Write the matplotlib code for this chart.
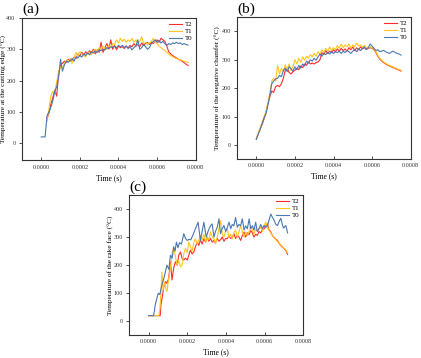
import numpy as np
import matplotlib
matplotlib.use("Agg")
import matplotlib.pyplot as plt

plt.rcParams["font.family"] = ["Liberation Serif", "DejaVu Serif"]

RED = "#ff2d2d"
YELLOW = "#ffc520"
BLUE = "#4a78b0"
LW = 0.8

LABELS = ["T2", "T1", "T0"]
XTICKS = [0.0, 0.0002, 0.0004, 0.0006, 0.0008]
XTICK_LABELS = ["0.0000", "0.0002", "0.0004", "0.0006", "0.0008"]
YTICKS = [0, 100, 200, 300, 400]

# time in microseconds
TIME_A_US = [0, 10, 20, 30, 40, 50, 60, 70, 80, 90,
             100, 110, 120, 130, 140, 150, 160, 170, 180, 190,
             200, 210, 220, 230, 240, 250, 260, 270, 280, 290,
             300, 310, 320, 330, 340, 350, 360, 370, 380, 390,
             400, 410, 420, 430, 440, 450, 460, 470, 480, 490,
             500, 510, 520, 530, 540, 550, 560, 570, 580, 590,
             600, 610, 620, 630, 640, 650, 660, 670, 680, 690,
             700, 710, 720, 730, 740, 750, 760]
TIME_B_US = TIME_A_US[:-1]

# (a) cutting edge
A_T2 = [None, None, None, 80, 95, 125, 145, 170, 150, 220,
        250, 255, 262, 258, 268, 262, 265, 275, 270, 285,
        278, 290, 282, 292, 285, 295, 288, 300, 285, 298,
        290, 322, 290, 305, 318, 300, 330, 300, 312, 298,
        310, 305, 308, 302, 310, 305, 312, 308, 318, 310,
        315, 308, 320, 312, 318, 322, 315, 322, 318, 325,
        330, 322, 335, 330, 325, 310, 292, 285, 280, 276,
        272, 268, 265, 261, 257, 252, 248]
A_T1 = [None, None, None, 70, 110, 150, 165, 160, 195, 230,
        245, 240, 255, 265, 262, 270, 255, 272, 290, 278,
        292, 285, 280, 275, 290, 288, 282, 295, 300, 292,
        305, 300, 310, 302, 300, 312, 305, 318, 315, 330,
        320, 335, 325, 332, 322, 330, 325, 335, 322, 330,
        320, 325, 340, 318, 322, 315, 320, 325, 335, 322,
        318, 310, 305, 300, 296, 290, 284, 280, 276, 273,
        270, 268, 266, 264, 262, 260, 258]
A_T0 = [20, 20, 20, 87, 100, 115, 135, 165, 180, 210,
        268, 230, 250, 262, 258, 265, 270, 262, 275, 272,
        280, 275, 285, 280, 288, 282, 292, 288, 295, 290,
        298, 295, 300, 298, 305, 302, 308, 305, 310, 305,
        312, 308, 312, 305, 310, 302, 308, 298, 305, 310,
        330, 300, 305, 315, 308, 300, 305, 318, 325, 330,
        322, 328, 320, 325, 318, 312, 318, 315, 320, 318,
        322, 318, 320, 315, 318, 315, 313]

# (b) negative chamfer
B_T2 = [22, 40, 58, 72, 92, 115, 145, 170, 190, 185,
        205, 210, 205, 215, 235, 262, 270, 255, 250, 258,
        262, 270, 265, 278, 272, 285, 280, 292, 285, 288,
        285, 290, 292, 300, 325, 318, 332, 322, 330, 325,
        335, 328, 338, 330, 340, 332, 338, 330, 342, 335,
        345, 332, 342, 335, 345, 338, 342, 338, 340, 342,
        340, 335, 325, 312, 302, 295, 290, 285, 281, 278,
        275, 272, 269, 266, 263, 260]
B_T1 = [25, 42, 62, 80, 100, 118, 150, 180, 225, 235,
        225, 280, 250, 270, 258, 282, 265, 285, 262, 275,
        300, 285, 305, 290, 310, 298, 312, 305, 318, 310,
        322, 312, 328, 318, 335, 325, 340, 330, 345, 332,
        342, 335, 350, 340, 355, 342, 352, 345, 355, 340,
        352, 345, 358, 348, 352, 345, 350, 345, 342, 345,
        342, 338, 328, 315, 305, 298, 292, 287, 283, 280,
        277, 274, 271, 268, 265, 263]
B_T0 = [20, 38, 55, 75, 95, 110, 140, 175, 215, 225,
        232, 235, 245, 240, 262, 270, 258, 275, 268, 260,
        275, 265, 280, 270, 285, 278, 295, 288, 300, 295,
        305, 298, 310, 320, 312, 322, 318, 325, 320, 328,
        322, 328, 325, 330, 322, 330, 325, 332, 328, 322,
        330, 335, 328, 338, 332, 340, 345, 335, 342, 355,
        348, 340, 332, 335, 328, 330, 333, 328, 325, 322,
        327, 330, 325, 322, 320, 316]

# (c) rake face
C_T2_US = [0, 60, 64, 70, 78, 87, 95, 104, 113, 121, 130, 139, 148, 156, 165,
           173, 182, 191, 200, 208, 216, 225, 234, 242, 251, 260, 268, 277, 286,
           295, 303, 312, 320, 329, 338, 346, 355, 364, 372, 381, 390, 398, 407,
           416, 425, 433, 442, 450, 459, 468, 476, 485, 494, 502, 511, 520, 528,
           537, 545, 554, 563, 571, 580, 589, 597, 606, 615, 620, 632, 641, 650,
           658, 667, 675, 684, 692, 701, 710, 719]
C_T2 = [20, 20, 60, 82, 120, 141, 135, 153, 212, 147, 190, 212, 200, 235, 247,
        225, 218, 225, 218, 235, 253, 240, 247, 265, 282, 270, 290, 275, 294,
        282, 300, 285, 295, 282, 288, 280, 295, 285, 290, 300, 285, 295, 294,
        305, 295, 300, 312, 295, 305, 300, 288, 305, 318, 300, 315, 308, 323,
        315, 300, 310, 306, 320, 315, 325, 329, 340, 347, 330, 318, 305, 298,
        292, 288, 278, 270, 264, 259, 252, 238]
C_T1_US = [0, 52, 58, 63, 69, 75, 83, 88, 95, 104, 113, 121, 130, 139, 147,
           156, 165, 173, 182, 191, 200, 208, 217, 225, 234, 242, 251, 260, 268,
           277, 286, 295, 303, 312, 320, 329, 338, 346, 355, 364, 372, 381, 390,
           398, 407, 416, 424, 433, 442, 450, 459, 468, 476, 485, 494, 502, 511,
           520, 528, 537, 545, 554, 563, 571, 580, 589, 597, 606, 615, 622, 632,
           641, 650, 658, 667, 675, 684, 692, 701, 710, 719]
C_T1 = [20, 20, 40, 94, 175, 110, 140, 120, 106, 150, 190, 240, 265, 230, 200,
        215, 194, 200, 240, 260, 245, 282, 265, 250, 280, 294, 275, 290, 306,
        290, 310, 282, 300, 290, 318, 300, 295, 276, 300, 330, 359, 312, 300,
        320, 330, 300, 310, 294, 318, 325, 300, 320, 341, 320, 300, 318, 306,
        320, 341, 325, 310, 330, 320, 330, 335, 320, 340, 353, 335, 325, 315,
        306, 298, 290, 285, 278, 272, 265, 260, 254, 243]
C_T0_US = [0, 26, 35, 43, 50, 58, 69, 78, 87, 95, 105, 113, 122, 130, 137,
           144, 152, 160, 170, 182, 191, 200, 210, 218, 228, 242, 256, 268, 277,
           286, 298, 310, 320, 329, 338, 346, 355, 364, 372, 381, 390, 399, 408,
           416, 425, 433, 441, 450, 459, 467, 476, 485, 494, 502, 511, 520, 528,
           537, 545, 554, 562, 571, 580, 589, 597, 606, 615, 623, 632, 641, 650,
           658, 667, 675, 684, 692, 698, 705, 710, 719]
C_T0 = [20, 20, 60, 82, 100, 95, 130, 150, 176, 200, 185, 235, 225, 265, 250,
        282, 262, 280, 275, 312, 295, 288, 292, 290, 305, 329, 353, 288, 320,
        353, 300, 325, 340, 347, 300, 320, 335, 365, 312, 330, 341, 320, 335,
        353, 330, 345, 340, 370, 335, 345, 340, 365, 325, 340, 330, 365, 330,
        340, 325, 353, 320, 330, 345, 330, 341, 335, 340, 360, 382, 370, 359,
        345, 341, 355, 367, 345, 332, 338, 341, 315]

fig = plt.figure(figsize=(4.21, 3.58), dpi=100)


def draw_panel(rect, letter, ylabel, ylim, label_x, series):
    ax = fig.add_axes(rect)
    for (t_us, temp), color, label in zip(series, [RED, YELLOW, BLUE], LABELS):
        ax.plot(np.array(t_us) * 1e-6, np.array(temp, dtype=float),
                color=color, lw=LW, label=label)
    ax.set_xlim(-0.0001, 0.0008)
    ax.set_ylim(*ylim)
    ax.set_xticks(XTICKS)
    ax.set_xticklabels(XTICK_LABELS)
    ax.set_yticks(YTICKS)
    ax.tick_params(axis="x", direction="in", length=2.5, width=0.6,
                   labelsize=4.4, pad=3, colors="#333333")
    ax.tick_params(axis="y", direction="out", length=2.5, width=0.6,
                   labelsize=4.4, pad=2, colors="#333333")
    for sp in ax.spines.values():
        sp.set_linewidth(0.8)
        sp.set_color("#333333")
    ax.set_xlabel("Time (s)", fontsize=5.5, labelpad=3)
    ax.set_ylabel(ylabel, fontsize=5.3)
    ax.yaxis.set_label_coords(label_x, 0.5)
    ax.legend(loc="upper right", frameon=False, fontsize=5, handlelength=1.9,
              handletextpad=0.4, labelspacing=0.15, borderaxespad=0.3,
              borderpad=0.2)
    ax.text(0.0, 1.01, letter, transform=ax.transAxes, fontsize=11,
            ha="left", va="bottom")
    return ax


draw_panel([0.052, 0.552, 0.413, 0.398], "(a)",
           "Temperature at the cutting edge (°C)", (-55, 400), -0.085,
           [(TIME_A_US, A_T2), (TIME_A_US, A_T1), (TIME_A_US, A_T0)])
draw_panel([0.563, 0.555, 0.4125, 0.3975], "(b)",
           "Temperature of the negative chamfer (°C)", (-50, 450), -0.095,
           [(TIME_B_US, B_T2), (TIME_B_US, B_T1), (TIME_B_US, B_T0)])
draw_panel([0.307, 0.0634, 0.4133, 0.392], "(c)",
           "Temperature of the rake face (°C)", (-50, 450), -0.085,
           [(C_T2_US, C_T2), (C_T1_US, C_T1), (C_T0_US, C_T0)])

fig.savefig("out.png", dpi=100)
